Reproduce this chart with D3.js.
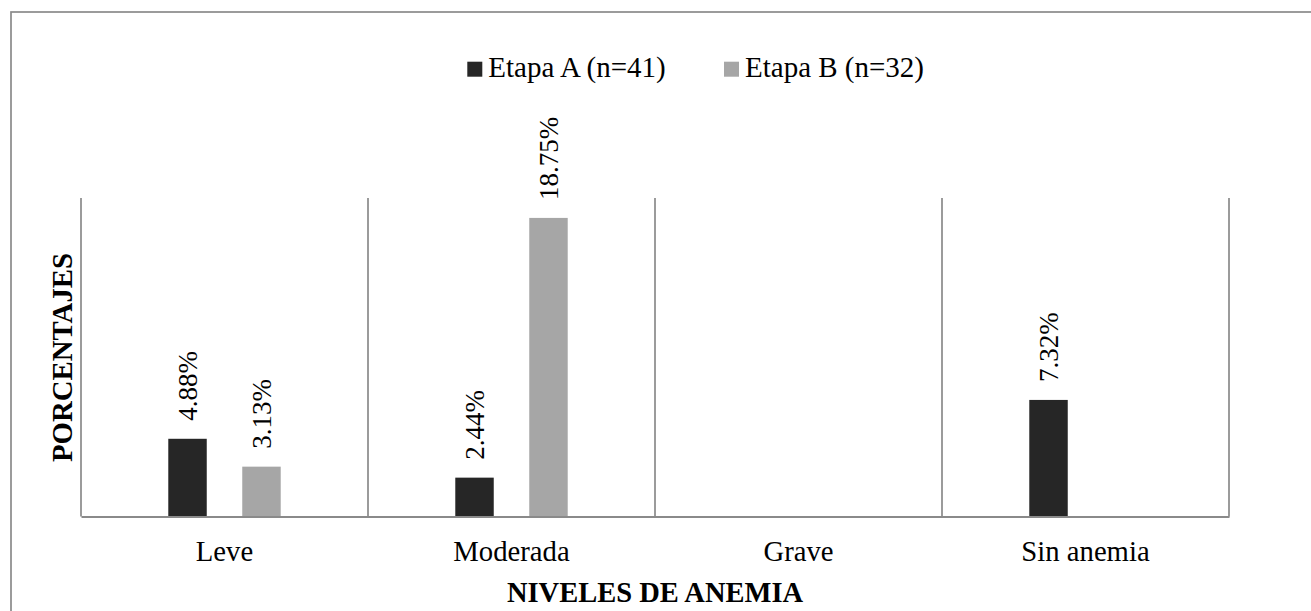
<!DOCTYPE html>
<html>
<head>
<meta charset="utf-8">
<script src="https://cdn.jsdelivr.net/npm/d3@7"></script>
<style>
  html, body { margin: 0; padding: 0; background: #fff; }
  svg { display: block; font-family: "Liberation Serif", "Times New Roman", serif; }
</style>
</head>
<body>
<svg id="chart" width="1311" height="611"></svg>
<script>
// Anemia levels by stage (percentages)
const categories = ["Leve", "Moderada", "Grave", "Sin anemia"];
const seriesNames = ["Etapa A (n=41)", "Etapa B (n=32)"];
const etapaA = [4.88, 2.44, null, 7.32];
const etapaB = [3.13, 18.75, null, null];
const colors = ["#262626", "#a6a6a6"];

const svg = d3.select("#chart");
const W = 1311, H = 611;
const plot = { left: 81, right: 1229, top: 198, bottom: 516.5 };

// outer chart frame
svg.append("rect")
  .attr("x", 11).attr("y", 12)
  .attr("width", W + 50).attr("height", H + 50)
  .attr("fill", "none").attr("stroke", "#8a8a8a").attr("stroke-width", 1.7);

const x0 = d3.scaleBand().domain(categories).range([plot.left, plot.right]).padding(0);
const x1 = d3.scaleBand().domain(d3.range(seriesNames.length))
  .range([0, x0.bandwidth()]).paddingInner(0.48).paddingOuter(1.18);
const y = d3.scaleLinear().domain([0, 20]).range([plot.bottom, plot.top]);

// vertical separators between categories
const bounds = categories.map(c => x0(c)).concat([plot.right]);
svg.append("g").selectAll("line").data(bounds).join("line")
  .attr("x1", d => d).attr("x2", d => d)
  .attr("y1", y(20)).attr("y2", y(0))
  .attr("stroke", "#8a8a8a").attr("stroke-width", 1.7);

// bars
const rows = [];
categories.forEach((c, i) => {
  [etapaA[i], etapaB[i]].forEach((v, s) => {
    if (v != null) rows.push({ cat: c, s, v });
  });
});

svg.append("g").selectAll("rect").data(rows).join("rect")
  .attr("x", d => x0(d.cat) + x1(d.s))
  .attr("width", x1.bandwidth())
  .attr("y", d => y(d.v))
  .attr("height", d => y(0) - y(d.v))
  .attr("fill", d => colors[d.s]);

// value labels, rotated
svg.append("g").selectAll("text").data(rows).join("text")
  .attr("transform", d => `translate(${x0(d.cat) + x1(d.s) + x1.bandwidth() / 2},${y(d.v) - 18}) rotate(-90)`)
  .attr("dy", "0.35em")
  .attr("text-anchor", "start")
  .attr("font-size", 27)
  .attr("fill", "#000")
  .text(d => d.v.toFixed(2) + "%");

// category axis
const xAxis = d3.axisBottom(x0).tickSize(0).tickPadding(24);
const gx = svg.append("g").attr("transform", `translate(0,${y(0)})`).call(xAxis);
gx.select(".domain").attr("stroke", "#8a8a8a").attr("stroke-width", 2);
gx.selectAll("text").attr("font-size", 28.7).attr("font-family", "Liberation Serif").attr("fill", "#000");

// axis titles
svg.append("text")
  .attr("x", (plot.left + plot.right) / 2).attr("y", 602)
  .attr("text-anchor", "middle")
  .attr("font-size", 28.5).attr("font-weight", "bold")
  .text("NIVELES DE ANEMIA");

svg.append("text")
  .attr("transform", `translate(71.5,357.5) rotate(-90)`)
  .attr("text-anchor", "middle")
  .attr("font-size", 28.8).attr("font-weight", "bold")
  .text("PORCENTAJES");

// legend
const legendX = [467.3, 724];
const legend = svg.append("g").selectAll("g").data(seriesNames).join("g")
  .attr("transform", (d, i) => `translate(${legendX[i]},0)`);
legend.append("rect")
  .attr("x", 0).attr("y", 61.7).attr("width", 15).attr("height", 15)
  .attr("fill", (d, i) => colors[i]);
legend.append("text")
  .attr("x", 21).attr("y", 76.7)
  .attr("font-size", 29)
  .attr("fill", "#000")
  .text(d => d);
</script>
</body>
</html>
